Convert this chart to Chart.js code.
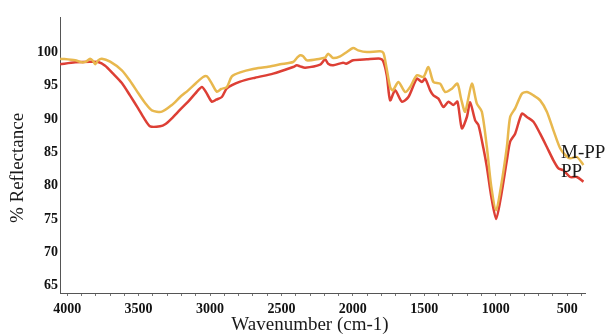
<!DOCTYPE html>
<html lang="en">
<head>
    <meta charset="UTF-8">
    <title>FTIR Reflectance - PP vs M-PP</title>
    <script src="https://cdn.jsdelivr.net/npm/chart.js"></script>
    <style>
        * { margin: 0; padding: 0; box-sizing: border-box; }
        body { background: white; width: 607px; height: 336px; overflow: hidden; }
        canvas { display: block; }
    </style>
</head>
<body>
<canvas id="ftir" width="607" height="336"></canvas>

<script>
    // M-PP spectrum (wavenumber cm-1 / % reflectance)
    var mppWave = [4049, 3944, 3897, 3867, 3839, 3818, 3804, 3783, 3757, 3699, 3617, 3559, 3503, 3454, 3407, 3337, 3267, 3209, 3153, 3097,
        3048, 3022, 2992, 2952, 2922, 2882, 2847, 2789, 2698, 2602, 2509, 2418, 2390, 2369, 2348, 2322, 2229, 2194, 2173, 2138,
        2089, 2042, 1998, 1963, 1902, 1809, 1786, 1767, 1739, 1720, 1681, 1634, 1599, 1552, 1506, 1471, 1436, 1389, 1354, 1307,
        1268, 1242, 1214, 1167, 1132, 1097, 1062, 1032, 997, 962, 922, 899, 864, 817, 782, 736, 689, 642, 596, 549,
        514, 479, 432, 386];
    var mppVal = [99.05, 98.8, 98.5, 98.6, 99.05, 98.7, 98.2, 98.8, 99.05, 98.6, 97.3, 95.7, 93.9, 92.4, 91.3, 91.1, 92.1, 93.3, 94.3, 95.4,
        96.3, 96.4, 95.5, 94.1, 94.5, 94.8, 96.4, 97.0, 97.5, 97.8, 98.2, 98.55, 99.2, 99.55, 99.4, 98.8, 99.05, 99.2, 99.8, 99.15,
        99.4, 100.05, 100.65, 100.3, 100.05, 100.15, 99.9, 98.0, 94.8, 94.3, 95.55, 94.05, 94.8, 96.55, 96.3, 97.8, 95.55, 95.3, 94.05, 94.55,
        95.3, 93.0, 91.1, 95.3, 92.3, 91.1, 85.8, 80.0, 76.3, 80.0, 85.8, 90.3, 91.6, 93.8, 94.05, 93.55, 92.8, 91.1, 88.3, 85.6,
        84.6, 84.1, 84.3, 83.1];

    // PP spectrum
    var ppWave = [4049, 3944, 3839, 3783, 3734, 3678, 3617, 3559, 3503, 3461, 3419, 3349, 3314, 3267, 3209, 3153, 3104, 3057, 3027, 2987,
        2957, 2917, 2882, 2789, 2684, 2558, 2418, 2392, 2369, 2334, 2229, 2194, 2173, 2138, 2068, 2047, 1998, 1902, 1809, 1788,
        1762, 1739, 1704, 1657, 1611, 1552, 1517, 1494, 1459, 1436, 1401, 1366, 1331, 1296, 1268, 1237, 1202, 1179, 1144, 1121,
        1086, 1062, 1032, 997, 962, 922, 899, 864, 817, 782, 736, 689, 642, 596, 561, 526, 479, 432, 386];
    var ppVal = [98.2, 98.5, 98.6, 98.55, 98.0, 96.8, 95.4, 93.5, 91.6, 90.1, 88.9, 88.9, 89.2, 90.1, 91.4, 92.6, 93.8, 94.8, 94.0, 92.6,
        92.9, 93.3, 94.6, 95.6, 96.2, 96.8, 97.8, 98.05, 97.9, 97.7, 98.15, 98.95, 98.3, 98.05, 98.45, 98.3, 98.8, 98.95, 99.05, 98.7,
        96.5, 92.8, 94.3, 92.6, 93.3, 96.05, 95.55, 96.05, 94.3, 93.55, 93.05, 91.8, 92.6, 92.1, 92.6, 88.6, 90.3, 92.5, 89.8, 89.1,
        85.6, 82.8, 78.5, 75.0, 78.5, 83.8, 86.6, 87.8, 90.8, 90.3, 89.6, 87.8, 85.8, 83.8, 82.6, 82.3, 81.3, 81.3, 80.6];

    var yTicks = [65, 70, 75, 80, 85, 90, 95, 100];
    var xLabels = [4000, 3500, 3000, 2500, 2000, 1500, 1000, 500];

    function pairs(xs, ys) {
        return xs.map(function (x, i) { return { x: x, y: ys[i] }; });
    }

    var serif = "'Liberation Serif', 'Times New Roman', serif";

    // axis titles and series names drawn at fixed spots
    var textPlugin = {
        id: 'textPlugin',
        afterDraw: function (chart) {
            var ctx = chart.ctx;
            ctx.save();
            ctx.fillStyle = '#1a1a1a';
            ctx.font = '19px ' + serif;
            ctx.textAlign = 'center';
            ctx.textBaseline = 'middle';
            ctx.fillText('Wavenumber (cm-1)', 310, 325);
            ctx.translate(18, 168);
            ctx.rotate(-Math.PI / 2);
            ctx.fillText('% Reflectance', 0, 0);
            ctx.restore();

            ctx.save();
            ctx.fillStyle = '#1a1a1a';
            ctx.font = '19px ' + serif;
            ctx.textAlign = 'left';
            ctx.textBaseline = 'alphabetic';
            ctx.fillText('M-PP', 561, 158);
            ctx.fillText('PP', 561, 177);
            ctx.restore();
        }
    };

    var ctx = document.getElementById('ftir').getContext('2d');
    var chart = new Chart(ctx, {
        type: 'line',
        data: {
            datasets: [{
                label: 'M-PP',
                data: pairs(mppWave, mppVal),
                borderColor: '#e8b84e',
                borderWidth: 2.5,
                pointRadius: 0,
                tension: 0.25,
                fill: false
            }, {
                label: 'PP',
                data: pairs(ppWave, ppVal),
                borderColor: '#dd3f35',
                borderWidth: 2.5,
                pointRadius: 0,
                tension: 0.25,
                fill: false
            }]
        },
        options: {
            responsive: false,
            animation: false,
            layout: { padding: { left: 0, right: 22, top: 17, bottom: 0 } },
            plugins: {
                legend: { display: false },
                tooltip: { enabled: false }
            },
            scales: {
                x: {
                    type: 'linear',
                    reverse: true,
                    min: 375,
                    max: 4050,
                    afterFit: function (s) { s.height = 43; },
                    afterBuildTicks: function (s) {
                        var t = [];
                        for (var v = 400; v <= 4000; v += 100) t.push({ value: v });
                        s.ticks = t;
                    },
                    border: { display: true, color: '#555', width: 1 },
                    grid: { drawOnChartArea: false, drawTicks: true, tickLength: 3, color: '#777' },
                    ticks: {
                        autoSkip: false,
                        maxRotation: 0,
                        padding: 5,
                        color: '#111',
                        font: { family: serif, size: 14, weight: 'bold' },
                        callback: function (v) { return xLabels.indexOf(v) >= 0 ? String(v) : ''; }
                    }
                },
                y: {
                    min: 63.9,
                    max: 105.3,
                    afterFit: function (s) { s.width = 60; },
                    afterBuildTicks: function (s) {
                        s.ticks = yTicks.map(function (v) { return { value: v }; });
                    },
                    border: { display: true, color: '#555', width: 1 },
                    grid: { drawOnChartArea: false, drawTicks: false },
                    ticks: {
                        padding: 2,
                        color: '#111',
                        font: { family: serif, size: 14, weight: 'bold' }
                    }
                }
            }
        },
        plugins: [textPlugin]
    });
</script>
</body>
</html>
